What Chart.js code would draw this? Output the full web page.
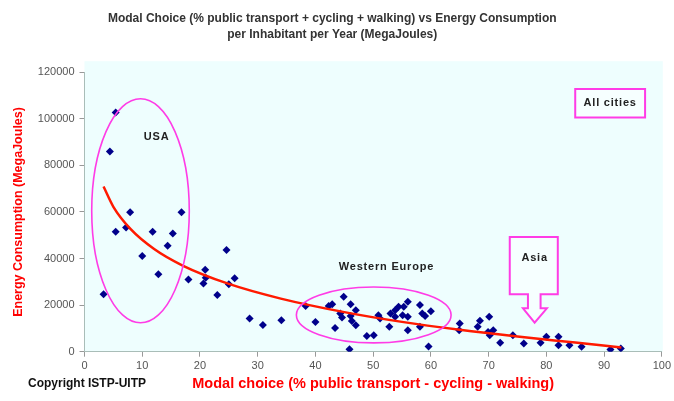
<!DOCTYPE html>
<html>
<head>
<meta charset="utf-8">
<script src="https://cdn.jsdelivr.net/npm/chart.js@4"></script>
<style>
  html, body { margin: 0; padding: 0; background: #ffffff; }
  #wrap { width: 674px; height: 401px; position: relative; }
</style>
</head>
<body>
<div id="wrap"><canvas id="c" width="674" height="401"></canvas></div>
<script>
// ---- Data ----
const modalChoice = [
  5.4, 4.4, 7.9, 16.8, 5.4, 7.2, 11.8, 15.3, 14.4, 10.0, 12.8, 3.3,
  18.0, 20.9, 21.0, 20.6, 24.6, 26.0, 25.0, 23.0, 28.6, 30.9, 34.1,
  38.3, 40.0, 42.3, 42.9, 44.9, 46.1, 44.3, 44.6, 46.1, 47.0, 46.3, 47.0, 43.4,
  48.9, 50.1, 45.9, 51.2, 53.0, 52.8, 53.8, 54.4, 55.3, 56.0, 55.1, 56.0, 56.0,
  53.8, 58.1, 58.1, 58.5, 59.0, 60.0, 59.6, 50.9,
  65.0, 64.9, 68.1, 68.5, 70.1, 69.9, 70.8, 70.2, 72.0, 74.2, 76.1, 79.0,
  80.0, 82.1, 82.1, 84.0, 86.1, 91.1, 92.9
];
const energyMJ = [
  102700, 85900, 59900, 59900, 51500, 53300, 51500, 50700, 45500, 41100, 33300, 24700,
  31000, 35200, 31700, 29300, 43700, 31500, 29000, 24300, 14300, 11500, 13500,
  19600, 12800, 19600, 20400, 23600, 20400, 16400, 14700, 15300, 17800, 13200, 11400, 10200,
  6700, 7100, 1000, 14300, 16400, 10700, 17800, 19300, 19300, 21400, 15700, 15000, 9200,
  15000, 20000, 10700, 16400, 15300, 17400, 2200, 15700,
  12100, 9200, 10700, 13300, 15000, 8500, 9200, 7100, 3800, 7100, 3500, 3800,
  6400, 6400, 2800, 2800, 2100, 900, 1400
];
// Trend line
const trendX = [3.3, 5, 8, 12, 17, 25, 34, 45, 55, 65, 75, 85, 93];
const trendY = [70900, 62200, 52600, 44200, 37000, 29100, 22800, 17000, 12800, 9400, 6500, 3900, 1800];

const titleLines = [
  'Modal Choice (% public transport + cycling + walking) vs Energy Consumption',
  'per Inhabitant per Year (MegaJoules)'
];
const xAxisTitle = 'Modal choice (% public transport - cycling - walking)';
const yAxisTitle = 'Energy Consumption (MegaJoules)';
const groupLabels = ['USA', 'Western Europe', 'Asia', 'All cities'];
const copyrightText = 'Copyright ISTP-UITP';

// ---- Annotation drawing (positions in data units) ----
const MAGENTA = '#ff3ce6';
const FONT = '"Liberation Sans", Arial, sans-serif';

const annotPlugin = {
  id: 'annot',
  beforeDraw(chart) {
    const {ctx, chartArea: a} = chart;
    ctx.save();
    ctx.fillStyle = '#eefefe';
    ctx.fillRect(a.left, a.top - 11, a.right - a.left + 1, a.bottom - a.top + 11);
    ctx.restore();
  },
  afterDatasetsDraw(chart) {
    const {ctx} = chart;
    const xs = chart.scales.x, ys = chart.scales.y;
    const px = v => xs.getPixelForValue(v);
    const py = v => ys.getPixelForValue(v);

    ctx.save();
    ctx.strokeStyle = MAGENTA;
    ctx.lineWidth = 1.6;
    [[9.7, 60500, 8.45, 48100], [50.1, 15800, 13.4, 12000]].forEach(([cx, cy, rx, ry]) => {
      ctx.beginPath();
      ctx.ellipse(px(cx), py(cy), Math.abs(px(cx + rx) - px(cx)), Math.abs(py(cy + ry) - py(cy)), 0, 0, Math.PI * 2);
      ctx.stroke();
    });

    const pts = [
      [73.66, 49260], [81.98, 49260], [81.98, 24650], [79.0, 24650], [79.0, 18640],
      [80.09, 18640], [77.97, 12460], [75.95, 18640], [76.81, 18640], [76.81, 24650],
      [73.66, 24650]
    ];
    ctx.beginPath();
    pts.forEach(([x, y], i) => i ? ctx.lineTo(px(x), py(y)) : ctx.moveTo(px(x), py(y)));
    ctx.closePath();
    ctx.fillStyle = '#f6ffff';
    ctx.fill();
    ctx.lineWidth = 2;
    ctx.stroke();

    ctx.beginPath();
    ctx.rect(px(85.0), py(112800), px(97.1) - px(85.0), py(100500) - py(112800));
    ctx.fillStyle = '#f6ffff';
    ctx.fill();
    ctx.stroke();

    ctx.fillStyle = '#222';
    ctx.font = 'bold 11px ' + FONT;
    ctx.textAlign = 'center';
    ctx.textBaseline = 'middle';
    try { ctx.letterSpacing = '0.8px'; } catch (e) {}
    ctx.fillText(groupLabels[0], px(12.5), py(92300));
    ctx.fillText(groupLabels[1], px(52.3), py(36400));
    ctx.fillText(groupLabels[2], px(77.97), py(40100));
    ctx.fillText(groupLabels[3], px(91.05), py(106600));
    try { ctx.letterSpacing = '0px'; } catch (e) {}

    ctx.font = 'bold 12px ' + FONT;
    ctx.fillStyle = '#111';
    ctx.textAlign = 'left';
    ctx.fillText(copyrightText, 28, 384);
    ctx.restore();
  }
};

const ctx = document.getElementById('c').getContext('2d');
new Chart(ctx, {
  type: 'scatter',
  data: {
    datasets: [
      {
        type: 'line',
        label: 'Trend',
        data: trendX.map((x, i) => ({x, y: trendY[i]})),
        borderColor: '#ff1a00',
        borderWidth: 2.5,
        pointRadius: 0,
        fill: false,
        cubicInterpolationMode: 'monotone'
      },
      {
        label: 'Cities',
        data: modalChoice.map((x, i) => ({x, y: energyMJ[i]})),
        pointStyle: 'rectRot',
        pointRadius: 4,
        backgroundColor: '#00008b',
        borderColor: '#00008b',
        borderWidth: 0
      }
    ]
  },
  options: {
    responsive: false,
    animation: false,
    devicePixelRatio: 1,
    layout: { padding: { left: 0, right: 9.5, top: 0, bottom: 0 } },
    plugins: {
      legend: { display: false },
      tooltip: { enabled: false },
      title: {
        display: true,
        text: titleLines,
        color: '#333',
        font: { family: FONT, size: 12, weight: 'bold', lineHeight: 1.3 },
        padding: { top: 11, bottom: 30 }
      }
    },
    scales: {
      x: {
        type: 'linear',
        min: 0, max: 100,
        ticks: { stepSize: 10, color: '#555', font: { family: FONT, size: 11 }, padding: 3 },
        grid: { drawOnChartArea: false, tickLength: 5, color: '#999' },
        border: { display: true, color: '#a9bdb8', width: 1 },
        title: {
          display: true, text: xAxisTitle, color: '#ff0000',
          font: { family: FONT, size: 14.5, weight: 'bold' },
          padding: { top: 0, bottom: 8 }
        },
        afterFit(s) { s.height = 49.3; }
      },
      y: {
        type: 'linear',
        min: 0, max: 120000,
        ticks: {
          stepSize: 20000, color: '#555', font: { family: FONT, size: 11 }, padding: 5,
          callback: v => String(v)
        },
        grid: { drawOnChartArea: false, tickLength: 5, color: '#999' },
        border: { display: true, color: '#a9bdb8', width: 1 },
        title: {
          display: true, text: yAxisTitle, color: '#ff0000',
          font: { family: FONT, size: 12.5, weight: 'bold' },
          padding: { top: 11, bottom: 0 }
        },
        afterFit(s) { s.width = 84.5; }
      }
    }
  },
  plugins: [annotPlugin]
});
</script>
</body>
</html>
